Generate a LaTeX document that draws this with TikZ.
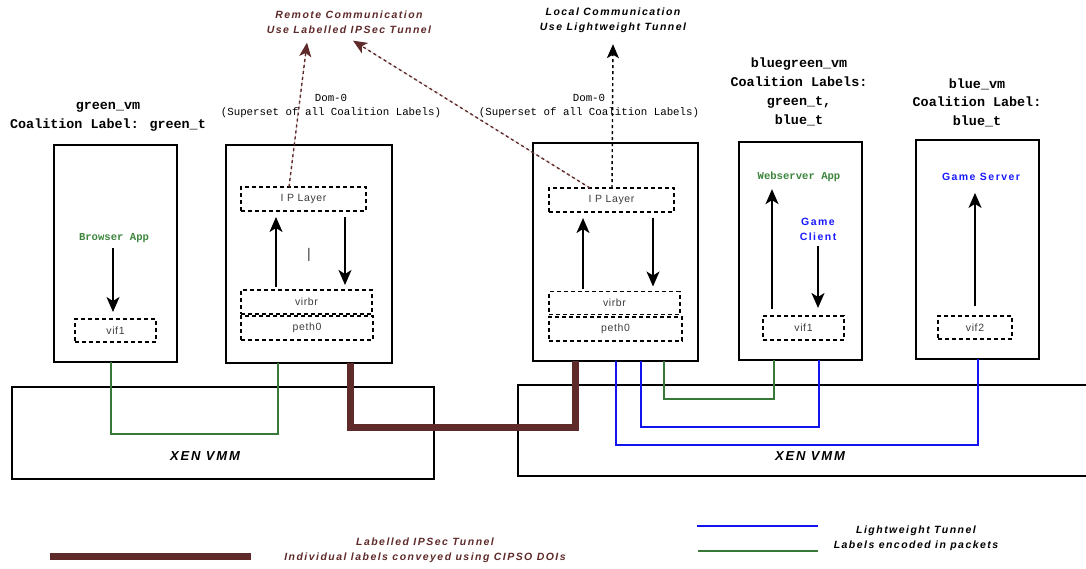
\documentclass[tikz,border=0pt]{standalone}
\usepackage{fontspec}
\setmainfont{Liberation Sans}
\newfontfamily\cour{Liberation Mono}
\newfontfamily\spacedbi{Liberation Sans}[LetterSpace=14]
\newfontfamily\spacedr{Liberation Sans}[LetterSpace=6]
\usetikzlibrary{arrows.meta}
\definecolor{maroon}{RGB}{95,42,42}
\definecolor{lgreen}{RGB}{56,120,56}
\definecolor{tgreen}{RGB}{61,133,61}
\definecolor{lblue}{RGB}{20,20,240}
\definecolor{tblue}{RGB}{25,25,255}
\definecolor{tgray}{RGB}{60,60,60}
\newcommand\fsz[2]{\fontsize{#1}{#2}\selectfont}
\begin{document}
\begin{tikzpicture}[x=1pt,y=-1pt,
  vmbox/.style={draw,line width=1.6pt,inner sep=0pt,outer sep=0pt},
  xenbox/.style={draw,line width=1.3pt,inner sep=0pt,outer sep=0pt},
  dbox/.style={draw,dash pattern=on 4pt off 3pt,line width=1.5pt,inner sep=0pt,outer sep=0pt,
    text=tgray,font=\spacedr\fsz{10.5}{12}},
  vmlabel/.style={align=center,font=\cour\bfseries\fsz{13.4}{18.5}},
  domlabel/.style={align=center,font=\cour\fsz{10.8}{14}},
  applabel/.style={align=center,font=\cour\bfseries\fsz{10.6}{13},text=tgreen,inner sep=1pt},
  gamelabel/.style={align=center,font=\spacedbi\bfseries\fsz{10.5}{15},text=tblue,inner sep=1pt},
  note/.style={align=center,font=\spacedbi\bfseries\itshape\fsz{10.5}{14.5}},
  xenlabel/.style={font=\spacedbi\bfseries\itshape\fsz{13}{14}},
  arr/.style={-{Stealth[length=15pt,width=13pt,inset=4pt]},line width=1.7pt},
  dasharr/.style={dash pattern=on 3pt off 3pt,line width=1.4pt,-{Stealth[length=14pt,width=12pt,inset=3.5pt]}},
  gline/.style={draw=lgreen,line width=1.5pt},
  bline/.style={draw=lblue,line width=1.5pt},
  mline/.style={draw=maroon,line width=7pt,line join=miter}]
\useasboundingbox (0,0) rectangle (1086,568);
\clip (0,0) rectangle (1086,568);

% Xen VMM boxes
\node[xenbox,minimum width=422pt,minimum height=92pt] (xenL) at (223,433) {};
\node[xenbox,minimum width=590pt,minimum height=91pt] (xenR) at (813,430.5) {};
\node[xenlabel] (xenLt) at (205,456) {XEN VMM};
\node[xenlabel] (xenRt) at (810,456) {XEN VMM};

% VM boxes
\node[vmbox,minimum width=123pt,minimum height=217pt] (gvm) at (115.5,253.5) {};
\node[vmbox,minimum width=166pt,minimum height=218pt] (d0L) at (309,254) {};
\node[vmbox,minimum width=165pt,minimum height=218pt] (d0R) at (615.5,252) {};
\node[vmbox,minimum width=123pt,minimum height=218pt] (bg) at (800.5,251) {};
\node[vmbox,minimum width=123pt,minimum height=219pt] (bvm) at (977.5,249.5) {};

% labels above boxes
\node[vmlabel] (gvmt) at (108,117) {green\_vm\\Coalition Label: green\_t};
\node[domlabel] (d0Lt) at (331,106) {Dom-0\\(Superset of all Coalition Labels)};
\node[domlabel] (d0Rt) at (589,106) {Dom-0\\(Superset of all Coalition Labels)};
\node[vmlabel,font=\cour\bfseries\fsz{13.4}{19}] (bgt) at (799,91.5) {bluegreen\_vm\\Coalition Labels:\\green\_t,\\blue\_t};
\node[vmlabel] (bvmt) at (977,102.5) {blue\_vm\\Coalition Label:\\blue\_t};

% top notes
\node[note,text=maroon] (remote) at (349,22) {Remote Communication\\Use Labelled IPSec Tunnel};
\node[note] (local) at (613,20.5) {Local Communication\\Use Lightweight Tunnel};

% green_vm contents
\node[applabel] (browser) at (114,238) {Browser App};
\node[dbox,minimum width=81pt,minimum height=23pt] (vif1L) at (115.5,330.5) {vif1};
\coordinate (bax) at ([xshift=-2.5pt]vif1L.north);
\draw[arr,shorten <=4pt,shorten >=7pt] (bax |- browser.south) -- (bax);

% Dom-0 left contents
\node[dbox,minimum width=125pt,minimum height=24pt] (ipL) at (303.5,199) {I P Layer};
\node[dbox,minimum width=131pt,minimum height=24pt] (virbrL) at (306.5,302) {virbr};
\node[dbox,minimum width=132pt,minimum height=24pt] (pethL) at (307,328) {peth0};
\node[text=tgray,font=\fsz{14}{16}] (barL) at (309,255) {|};
\draw[arr,shorten <=3pt,shorten >=6pt] ([xshift=-30.5pt]virbrL.north) -- ([xshift=-27.5pt]ipL.south);
\draw[arr,shorten <=6pt,shorten >=5pt] ([xshift=41.5pt]ipL.south) -- ([xshift=38.5pt]virbrL.north);

% Dom-0 right contents
\node[dbox,minimum width=125pt,minimum height=24pt] (ipR) at (611.5,200) {I P Layer};
\node[dbox,minimum width=131pt,minimum height=23pt] (virbrR) at (614.5,303) {virbr};
\node[dbox,minimum width=133pt,minimum height=24pt] (pethR) at (615.5,329) {peth0};
\draw[arr,shorten <=3pt,shorten >=6pt] ([xshift=-31.5pt]virbrR.north) -- ([xshift=-28.5pt]ipR.south);
\draw[arr,shorten <=6pt,shorten >=5pt] ([xshift=41.5pt]ipR.south) -- ([xshift=38.5pt]virbrR.north);

% bluegreen contents
\node[applabel] (websrv) at (799,177) {Webserver App};
\node[gamelabel] (gclient) at (818,229.5) {Game\\Client};
\node[dbox,minimum width=81pt,minimum height=24pt] (vif1R) at (803.5,328) {vif1};
\coordinate (wsx) at ([xshift=-31.5pt]vif1R.north);
\draw[arr,shorten <=7pt,shorten >=6pt] (wsx) -- (wsx |- websrv.south);
\draw[arr,shorten <=4pt,shorten >=8pt] (gclient.south) -- (gclient.south |- vif1R.north);

% blue_vm contents
\node[gamelabel] (gserver) at (981,177) {Game Server};
\node[dbox,minimum width=74pt,minimum height=23pt] (vif2) at (975,327.5) {vif2};
\draw[arr,shorten <=10pt,shorten >=11pt] (vif2.north) -- (vif2.north |- gserver.south);

% dashed communication arrows
\draw[dasharr,draw=maroon,fill=maroon] ([xshift=-14.5pt]ipL.north) -- ([xshift=-42pt,yshift=-6pt]remote.south);
\draw[dasharr,draw=maroon,fill=maroon] ([xshift=-21.5pt]ipR.north) -- ([xshift=4pt,yshift=-4pt]remote.south);
\draw[dasharr] ([xshift=0.5pt]ipR.north) -- ([yshift=-8pt]local.south);

% tunnels
\draw[gline] ([xshift=-4.5pt]gvm.south) -- ++(0,72) -| ([xshift=-31pt]d0L.south);
\draw[mline] ([xshift=41pt]d0L.south) -- ++(0,64) -| ([xshift=-40.5pt]d0R.south);
\draw[bline] ([xshift=0.5pt]d0R.south) -- ++(0,84) -| ([xshift=0.5pt]bvm.south);
\draw[bline] ([xshift=25.5pt]d0R.south) -- ++(0,66) -| ([xshift=18.5pt]bg.south);
\draw[gline] ([xshift=48.5pt]d0R.south) -- ++(0,38) -| ([xshift=-26.5pt]bg.south);

% legend
\coordinate (lm1) at (50,556);
\coordinate (lm2) at (251,556);
\draw[draw=maroon,line width=7pt] (lm1) -- (lm2);
\node[note,text=maroon] (lmt) at (425,550.5) {Labelled IPSec Tunnel\\Individual labels conveyed using CIPSO DOIs};
\coordinate (lb1) at (697,526);
\coordinate (lb2) at (818,526);
\coordinate (lg1) at (698,551);
\coordinate (lg2) at (818,551);
\draw[bline,line width=2pt] (lb1) -- (lb2);
\draw[gline,line width=2pt] (lg1) -- (lg2);
\node[note] (lbt) at (916,538.5) {Lightweight Tunnel\\Labels encoded in packets};
\end{tikzpicture}
\end{document}
